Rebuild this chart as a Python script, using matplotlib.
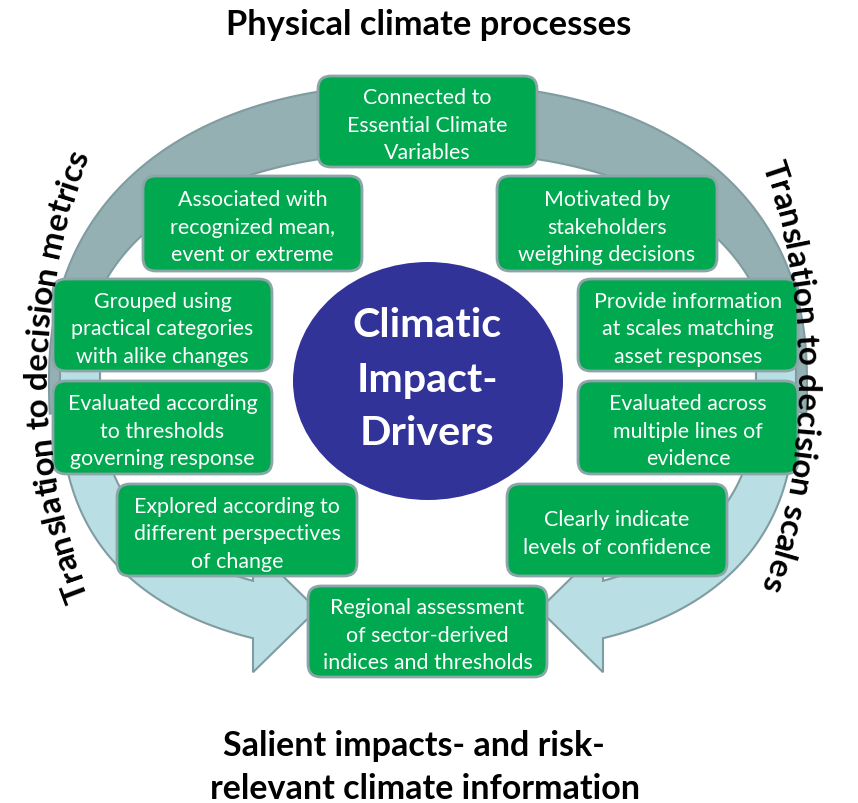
import numpy as np
import matplotlib
matplotlib.use('Agg')
import matplotlib.pyplot as plt
from matplotlib.patches import FancyBboxPatch, Ellipse, Polygon
from matplotlib.textpath import TextPath
from matplotlib.font_manager import FontProperties

W, H = 858, 804
FONT = ['Lato', 'DejaVu Sans']

# ---------------- content ----------------
title_top = "Physical climate processes"
title_bottom = ["Salient impacts- and risk-", "relevant climate information"]
side_left = "Translation to decision metrics"
side_right = "Translation to decision scales"
center_lines = ["Climatic", "Impact-", "Drivers"]

box_texts = [
    ["Connected to", "Essential Climate", "Variables"],
    ["Associated with", "recognized mean,", "event or extreme"],
    ["Motivated by", "stakeholders", "weighing decisions"],
    ["Grouped using", "practical categories", "with alike changes"],
    ["Provide information", "at scales matching", "asset responses"],
    ["Evaluated according", "to thresholds", "governing response"],
    ["Evaluated across", "multiple lines of", "evidence"],
    ["Explored according to", "different perspectives", "of change"],
    ["Clearly indicate", "levels of confidence"],
    ["Regional assessment", "of sector-derived", "indices and thresholds"],
]

# ---------------- layout (pixels) ----------------
box_rects = [  # left, top, right, bottom
    (318, 77, 537, 168),
    (143, 177, 362, 272),
    (497, 177, 717, 272),
    (53, 280, 272, 372),
    (578, 280, 798, 372),
    (53, 382, 272, 475),
    (578, 382, 798, 475),
    (117, 485, 357, 577),
    (507, 485, 727, 577),
    (308, 587, 547, 678),
]

GREEN = '#00A94F'
BOX_EDGE = '#8BA5A9'
GRAY_ARC = '#95B0B3'
LIGHT_ARC = '#B9DEE3'
ARC_EDGE = '#809CA0'
NAVY = '#323399'

CX, CY = 428, 385


def ink_width(s, weight, size=100.0):
    fp = FontProperties(family=FONT, weight=weight)
    ext = TextPath((0, 0), s, size=size, prop=fp).get_extents()
    return ext.x1 - ext.x0


def ink_right(s, weight, size):
    fp = FontProperties(family=FONT, weight=weight)
    ext = TextPath((0, 0), s, size=size, prop=fp).get_extents()
    return ext.x1


def fit_px(s, weight, target):
    return 100.0 * target / ink_width(s, weight)


PT = 72.0 / 100.0  # px -> pt at dpi 100


def sup(t, cx, cy, rx, ry, n):
    c, s = np.cos(t), np.sin(t)
    return (cx + rx * np.sign(c) * np.abs(c) ** (2 / n),
            cy - ry * np.sign(s) * np.abs(s) ** (2 / n))


fig = plt.figure(figsize=(W / 100, H / 100), dpi=100)
ax = fig.add_axes([0, 0, 1, 1])
ax.set_xlim(0, W)
ax.set_ylim(H, 0)
ax.axis('off')

# ---------------- top gray arc ----------------
t = np.radians(np.linspace(-4, 184, 500))
xo, yo = sup(t, CX, CY, 379, 300, 2.3)
xi, yi = sup(t[::-1], CX, CY, 347, 232, 2.3)
ax.add_patch(Polygon(np.column_stack([np.r_[xo, xi], np.r_[yo, yi]]), closed=True,
                     fc=GRAY_ARC, ec=ARC_EDGE, lw=1.5, zorder=1))

# ---------------- lower light arrows ----------------
X_END = 253
TIP_DX = 64
WING = 34


def lower_arrow(mirror):
    t = np.radians(np.linspace(176, 270, 3000))
    xo, yo = sup(t, CX, CY, 368, 270, 2.6)
    xi, yi = sup(t, CX, CY, 328, 214, 2.6)
    yo_end = np.interp(X_END, xo, yo)
    yi_end = np.interp(X_END, xi, yi)
    mo, mi = xo < X_END, xi < X_END
    px = list(xo[mo]) + [X_END, X_END, X_END + TIP_DX, X_END, X_END] + list(xi[mi][::-1])
    py = list(yo[mo]) + [yo_end, yo_end + WING, (yo_end + yi_end) / 2, yi_end - WING, yi_end] + list(yi[mi][::-1])
    px = np.array(px)
    if mirror:
        px = 2 * CX - px
    ax.add_patch(Polygon(np.column_stack([px, py]), closed=True,
                         fc=LIGHT_ARC, ec=ARC_EDGE, lw=1.5, zorder=2))


lower_arrow(False)
lower_arrow(True)

# ---------------- boxes ----------------
box_px = fit_px("recognized mean,", 'normal', 162)
LINE_DY = 27.5
for (l, tp, r, b), lines in zip(box_rects, box_texts):
    ax.add_patch(FancyBboxPatch((l, tp), r - l, b - tp,
                                boxstyle="round,pad=0,rounding_size=13",
                                fc=GREEN, ec=BOX_EDGE, lw=2.0, zorder=5))
    cxb, cyb = (l + r) / 2, (tp + b) / 2 + 1.5
    n = len(lines)
    for k, line in enumerate(lines):
        yc = cyb + (k - (n - 1) / 2) * LINE_DY
        ax.text(cxb, yc + 0.36 * box_px, line, ha='center', va='baseline',
                color='white', fontsize=box_px * PT, family=FONT, zorder=6)

# ---------------- center ellipse ----------------
ax.add_patch(Ellipse((428, 382), 270, 238, fc=NAVY, ec='none', zorder=5))
c_px = fit_px("Climatic", 'bold', 147)
for line, yb in zip(center_lines, [337, 392, 445]):
    ax.text(427, yb, line, ha='center', va='baseline', color='white',
            fontsize=c_px * PT, fontweight='bold', family=FONT, zorder=6)

# ---------------- titles ----------------
t_px = fit_px(title_top, 'bold', 402)
ax.text(429, 35, title_top, ha='center', va='baseline', color='black',
        fontsize=t_px * PT, fontweight='bold', family=FONT, zorder=6)
b_px = fit_px(title_bottom[0], 'bold', 378)
ax.text(414, 756, title_bottom[0], ha='center', va='baseline', color='black',
        fontsize=b_px * PT, fontweight='bold', family=FONT, zorder=6)
ax.text(425, 799, title_bottom[1], ha='center', va='baseline', color='black',
        fontsize=b_px * PT, fontweight='bold', family=FONT, zorder=6)


# ---------------- curved side texts ----------------
def curved(s, px, R, edge_x, mid_y, side):
    fp_len = ink_width(s, 'bold', px)
    x0 = ink_right(s[0], 'bold', px) - ink_width(s[0], 'bold', px)
    for i, ch in enumerate(s):
        if ch == ' ':
            continue
        right = ink_right(s[:i + 1], 'bold', px) - x0
        wi = ink_width(ch, 'bold', px)
        pos = right - wi / 2 - fp_len / 2
        phi = pos / R
        if side == 'left':
            ccx = edge_x + R
            x = ccx - R * np.cos(phi)
            y = mid_y - R * np.sin(phi)
            rot = 90 - np.degrees(phi)
        else:
            ccx = edge_x - R
            x = ccx + R * np.cos(phi)
            y = mid_y + R * np.sin(phi)
            rot = np.degrees(np.arctan2(-np.cos(phi), -np.sin(phi)))
        ax.text(x, y, ch, rotation=rot, rotation_mode='anchor', ha='center',
                va='baseline', fontsize=px * PT, fontweight='bold',
                family=FONT, color='black', zorder=6)


side_px = t_px * 0.96
curved(side_left, side_px, 600, 47, 376, 'left')
curved(side_right, side_px, 640, 797, 376, 'right')

fig.savefig('out.png', dpi=100)
